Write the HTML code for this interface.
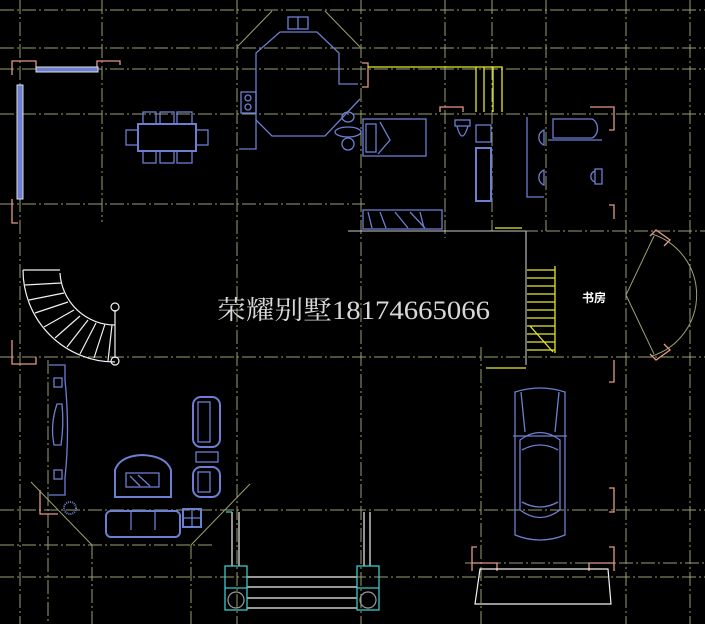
<!DOCTYPE html>
<html><head><meta charset="utf-8"><style>
html,body{margin:0;padding:0;background:#000;}
svg{display:block;}
.g{stroke:#9aa170;stroke-width:1;stroke-dasharray:14 3 2 3;fill:none;}
.p{stroke:#e39a86;stroke-width:1.3;fill:none;}
.b{stroke:#6c7fd0;stroke-width:1.3;fill:none;}
.w{stroke:#f2f2f2;stroke-width:1.2;fill:none;}
.y{stroke:#e8e830;stroke-width:1.3;fill:none;}
.c{stroke:#3cc8c8;stroke-width:1.3;fill:none;}
.o{stroke:#9aa170;stroke-width:1;fill:none;}
</style></head><body>
<svg width="705" height="624" viewBox="0 0 705 624" xmlns="http://www.w3.org/2000/svg">
<rect width="705" height="624" fill="#000"/>
<!-- grid -->
<g class="g">
<line x1="0" y1="10" x2="705" y2="10"/>
<line x1="0" y1="48" x2="705" y2="48"/>
<line x1="0" y1="69" x2="705" y2="69"/>
<line x1="0" y1="114" x2="705" y2="114"/>
<line x1="0" y1="204" x2="365" y2="204"/>
<line x1="348" y1="231" x2="705" y2="231"/>
<line x1="0" y1="357" x2="705" y2="357"/>
<line x1="0" y1="510" x2="705" y2="510"/>
<line x1="0" y1="545" x2="212" y2="545"/>
<line x1="465" y1="563" x2="705" y2="563"/>
<line x1="0" y1="577" x2="705" y2="577"/>
<line x1="20" y1="0" x2="20" y2="624"/>
<line x1="48" y1="360" x2="48" y2="624"/>
<line x1="92" y1="545" x2="92" y2="624"/>
<line x1="102" y1="0" x2="102" y2="222"/>
<line x1="191" y1="545" x2="191" y2="624"/>
<line x1="237" y1="0" x2="237" y2="624"/>
<line x1="361" y1="0" x2="361" y2="624"/>
<line x1="445" y1="0" x2="445" y2="238"/>
<line x1="492" y1="0" x2="492" y2="231"/>
<line x1="481" y1="347" x2="481" y2="624"/>
<line x1="546" y1="0" x2="546" y2="231"/>
<line x1="626" y1="0" x2="626" y2="624"/>
<line x1="690" y1="0" x2="690" y2="624"/>
</g>
<!-- pink wall ends -->
<g class="p">
<path d="M12,75 V61 H36 V67"/><path d="M97,67 V61 H120 V65"/>
<path d="M12,199 V223 H18"/><path d="M362,63 H368 V87 H362"/>
<path d="M440,112 V107 H463 V112"/><path d="M590,107 H614 V130 H609"/>
<path d="M609,205 H614 V219"/><path d="M12,340 V364 H36 V357"/>
<path d="M40,490 V514 H58"/><path d="M614,360 V382 H609"/><path d="M609,488 H614 V512 H609"/>
<path d="M472,571 V547 H477 M472,563 H497 V571"/><path d="M614,571 V547 H609 M614,563 H589 V571"/>
</g>
<!-- windows -->
<rect x="36" y="67" width="62" height="5" fill="#6c7fd0" stroke="#ddd" stroke-width="1"/>
<rect x="17" y="85" width="6" height="114" fill="#6c7fd0" stroke="#ddd" stroke-width="1"/>
<!-- kitchen -->
<g class="o"><line x1="237" y1="47" x2="272" y2="11"/><line x1="325" y1="11" x2="360" y2="47"/></g>
<g class="b">
<path d="M239,149 H256 V53 L280,32 H317 L339,53 V84 H358"/>
<path d="M256,120 L272,136 H325 L360,99"/>
<rect x="288" y="17" width="20" height="12"/><line x1="298" y1="17" x2="298" y2="29"/>
<rect x="241" y="92" width="15" height="21"/><circle cx="248" cy="98" r="3"/><circle cx="248" cy="107" r="3"/>
<!-- dining -->
<rect x="138" y="124" width="58" height="27" stroke-width="2"/>
<rect x="143" y="112" width="13" height="12"/><rect x="160" y="112" width="14" height="12"/><rect x="177" y="112" width="15" height="12"/>
<rect x="143" y="151" width="13" height="12"/><rect x="160" y="151" width="14" height="12"/><rect x="177" y="151" width="15" height="12"/>
<rect x="126" y="130" width="12" height="15"/><rect x="196" y="130" width="12" height="15"/>
<!-- bedroom -->
<rect x="363" y="119" width="63" height="37"/><rect x="366" y="124" width="10" height="28"/>
<path d="M380,122 L390,140 L378,154"/>
<ellipse cx="348" cy="117" rx="6" ry="5"/><ellipse cx="348" cy="132" rx="13" ry="5"/><ellipse cx="348" cy="144" rx="6" ry="6"/>
<rect x="363" y="210" width="79" height="19"/>
<path d="M368,212 L372,228 M380,212 L386,228 M395,212 L408,228 M410,212 L425,228 M420,212 L424,228"/>
<!-- bath1 -->
<rect x="455" y="120" width="15" height="6"/><path d="M457,126 Q462,146 468,126"/>
<rect x="476" y="125" width="15" height="17"/><rect x="476" y="148" width="15" height="53" stroke-width="2"/>
<!-- bath2 -->
<path d="M527,117 V197 H544"/>
<path d="M544,130 A8,8 0 0 0 544,145 Z"/><path d="M544,170 A8,8 0 0 0 544,185 Z"/>
<path d="M553,119 H592 A8,10 0 0 1 592,138 H553 Z"/><line x1="548" y1="140" x2="602" y2="140"/>
<rect x="595" y="169" width="7" height="15"/><path d="M595,171 A7,6 0 0 0 595,182"/>
<!-- living -->
<path d="M49,365 H65 V380 Q70,430 65,478 V495 H49"/>
<rect x="54" y="378" width="8" height="9"/><rect x="54" y="470" width="8" height="9"/>
<path d="M57,404 Q50,425 54,445 H61 Q64,425 62,404 Z"/>
<rect x="193" y="397" width="27" height="50" rx="8" stroke-width="2"/><rect x="198" y="402" width="12" height="40"/>
<rect x="196" y="452" width="22" height="10"/>
<rect x="193" y="467" width="27" height="30" rx="8" stroke-width="2"/><rect x="198" y="472" width="12" height="20"/>
<path d="M115,497 V470 Q120,456 142,455 Q166,456 171,470 V497 Z" stroke-width="2"/>
<rect x="126" y="473" width="33" height="14"/><path d="M130,476 L140,486 M138,475 L150,486"/>
<rect x="106" y="511" width="74" height="26" rx="5" stroke-width="2"/><line x1="131" y1="511" x2="131" y2="530"/><line x1="155" y1="511" x2="155" y2="530"/>
<rect x="183" y="509" width="18" height="18" stroke-width="2"/><line x1="192" y1="509" x2="192" y2="527"/><line x1="183" y1="518" x2="201" y2="518"/>
<circle cx="70" cy="508" r="6" stroke-dasharray="1 1" stroke-width="2"/>
<!-- car -->
<path d="M515,392 Q540,384 565,392 V535 Q540,545 515,535 Z"/>
<path d="M521,392 L525,432 M559,392 L555,432"/>
<path d="M520,440 Q540,425 560,440 V510 Q540,525 520,510 Z"/>
<path d="M522,450 Q540,440 558,450 M522,502 Q540,512 558,502"/>
<line x1="513" y1="436" x2="567" y2="436"/>
</g>
<g class="o"><line x1="31" y1="482" x2="92" y2="545"/><line x1="250" y1="484" x2="191" y2="545"/></g>
<!-- yellow -->
<g class="y">
<path d="M368,67 H502 V112"/><line x1="476" y1="67" x2="476" y2="112"/><line x1="484" y1="67" x2="484" y2="112"/><line x1="493" y1="67" x2="493" y2="112"/>
<line x1="495" y1="228" x2="522" y2="228"/>
<line x1="555" y1="266" x2="555" y2="353"/>
<path d="M527,270 H555 M527,278 H555 M527,286 H555 M527,294 H555 M527,302 H555 M527,310 H555 M527,318 H555 M527,326 H555 M527,334 H555 M527,342 H555 M527,350 H555"/>
<line x1="530" y1="326" x2="553" y2="352"/>
<line x1="486" y1="368" x2="526" y2="368"/>
</g>
<line x1="526" y1="231" x2="526" y2="365" stroke="#ddd" stroke-width="1"/>
<line x1="348" y1="231" x2="525" y2="231" stroke="#ccc" stroke-width="1"/>
<!-- study door arc -->
<g class="o">
<path d="M652,234 A64,64 0 0 1 652,356"/>
<line x1="626" y1="295" x2="654" y2="236"/><line x1="626" y1="295" x2="654" y2="354"/>
</g>
<path class="p" d="M650,236 L656,230 L670,240 L664,246 M650,354 L656,360 L670,350 L664,344"/>
<!-- spiral stairs -->
<g class="w">
<path d="M23,270 A92,92 0 0 0 115,362"/>
<path d="M60,273 A55,55 0 0 0 115,325"/>
<path d="M23,270 H60 M25,285 L61,283 M29,300 L64,293 M35,313 L68,302 M44,327 L74,310 M55,338 L80,316 M67,347 L88,320 M80,354 L96,323 M94,358 L105,324 M108,361 L112,325"/>
<line x1="115" y1="310" x2="115" y2="358"/>
<circle cx="115" cy="307" r="4"/><circle cx="115" cy="361" r="4"/>
</g>
<!-- entrance -->
<g class="w">
<line x1="232" y1="512" x2="232" y2="566"/><line x1="239" y1="512" x2="239" y2="566"/>
<line x1="364" y1="512" x2="364" y2="566"/><line x1="370" y1="512" x2="370" y2="566"/>
<line x1="247" y1="577" x2="357" y2="577"/><line x1="247" y1="587" x2="357" y2="587"/>
<line x1="247" y1="598" x2="357" y2="598"/><line x1="247" y1="608" x2="357" y2="608"/>
<path d="M480,569 H608 L611,604 H475 Z"/>
</g>
<g class="c">
<rect x="225" y="566" width="22" height="44"/><line x1="225" y1="588" x2="247" y2="588"/>
<rect x="357" y="566" width="22" height="44"/><line x1="357" y1="588" x2="379" y2="588"/>
<path d="M226,512 H232"/>
</g>
<circle cx="236" cy="600" r="8" fill="none" stroke="#999" stroke-width="1.2"/>
<circle cx="368" cy="600" r="8" fill="none" stroke="#999" stroke-width="1.2"/>
<!-- text -->
<text x="217" y="319" font-family="'Liberation Serif','Noto Serif CJK SC',serif" font-size="26" fill="#d8d8d8" textLength="273" lengthAdjust="spacingAndGlyphs">荣耀别墅18174665066</text>
<text x="582" y="302" font-family="'Liberation Sans','Noto Sans CJK SC',sans-serif" font-size="12" font-weight="bold" fill="#fff">书房</text>
</svg>
</body></html>
